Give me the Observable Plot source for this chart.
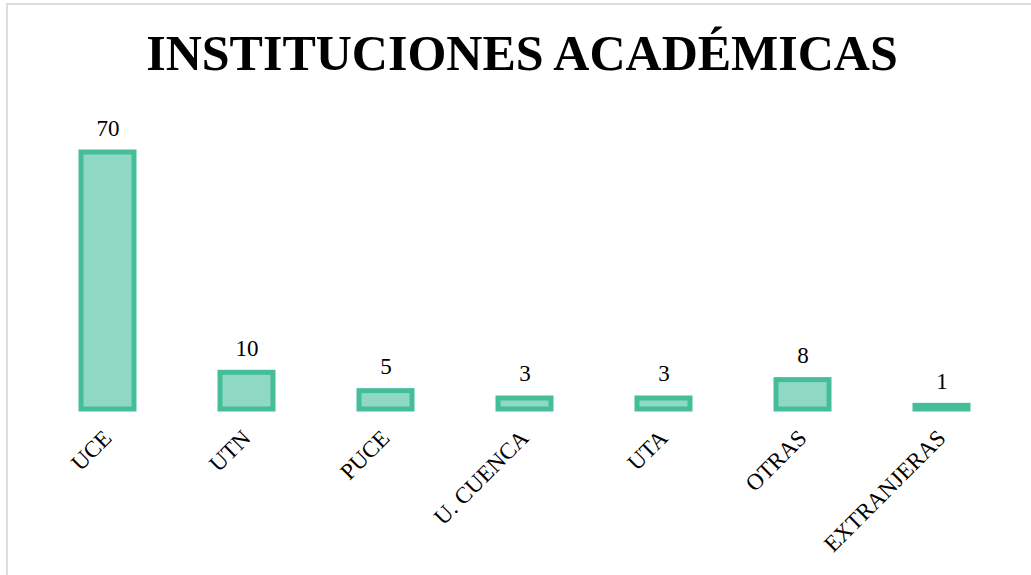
<!DOCTYPE html>
<html>
<head>
<meta charset="utf-8">
<script src="https://cdn.jsdelivr.net/npm/d3@7"></script>
<script src="https://cdn.jsdelivr.net/npm/@observablehq/plot@0.6"></script>
<style>
  html, body { margin: 0; padding: 0; background: #fff; overflow: hidden; width: 1031px; height: 575px; }
  #frame { position: absolute; left: 6px; top: 3px; width: 1100px; height: 700px; border: 2px solid #dedede; box-sizing: border-box; pointer-events: none; }
  #title { position: relative; height: 100px; box-sizing: border-box; padding-top: 28px; padding-left: 13px; text-align: center;
           font-family: "Liberation Serif", "Times New Roman", serif; font-weight: bold; font-size: 50px; line-height: 50px; color: #000; }
  #chart { position: relative; }
</style>
</head>
<body>
<div id="frame"></div>
<div id="title">INSTITUCIONES ACADÉMICAS</div>
<div id="chart"></div>
<script>
const categories = ["UCE", "UTN", "PUCE", "U. CUENCA", "UTA", "OTRAS", "EXTRANJERAS"];
const values = [70, 10, 5, 3, 3, 8, 1];

const data = categories.map((c, i) => ({ name: c, value: values[i] }));

const fillColor = "#8fd9c4";
const strokeColor = "#45bd98";
const font = "'Liberation Serif', 'Times New Roman', serif";

const chart = Plot.plot({
  width: 1031,
  height: 475,
  marginTop: 52,
  marginBottom: 166,
  marginLeft: 37.5,
  marginRight: 20.5,
  style: { fontFamily: font, background: "transparent", overflow: "visible" },
  x: { domain: categories, paddingInner: 0.619, paddingOuter: 0.3095, axis: null },
  y: { domain: [0, 70], axis: null },
  marks: [
    Plot.barY(data, { x: "name", y: "value", fill: fillColor, stroke: strokeColor, strokeWidth: 5 }),
    Plot.text(data, { x: "name", y: "value", text: d => String(d.value), lineAnchor: "bottom", dy: -17, fontSize: 23, fill: "#000", fontFamily: font }),
    Plot.text(data, { x: "name", y: () => 0, text: "name", rotate: -45, textAnchor: "end", lineAnchor: "bottom", dx: 5, dy: 30, fontSize: 23, fill: "#000", fontFamily: font })
  ]
});
document.getElementById("chart").appendChild(chart);
</script>
</body>
</html>
